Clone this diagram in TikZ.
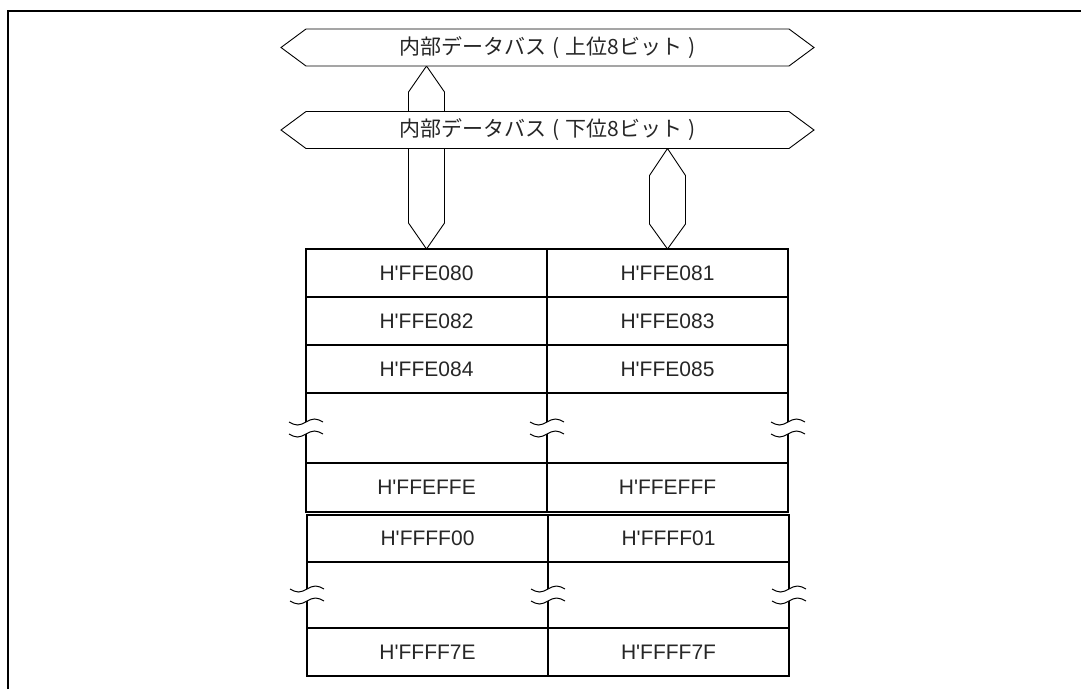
\documentclass[tikz,border=0pt]{standalone}
\usepackage{fontspec}
\setmainfont{Liberation Sans}
\newfontfamily\addrfont{Liberation Sans}[Ligatures=TeXOff]
\newfontfamily\jpfont{Noto Sans CJK JP}
\usetikzlibrary{shapes.arrows,calc,backgrounds}

\newcommand\pgap{\hspace{6pt}}
\tikzset{
  brkmark/.pic={
    \fill[white] (-17,-6) sin (-8.5,-3) cos (0,-6) sin (8.5,-9) cos (17,-6)
      -- (17,6) sin (8.5,3) cos (0,6) sin (-8.5,9) cos (-17,6) -- cycle;
    \draw[line width=1pt] (-17,-6) sin (-8.5,-3) cos (0,-6) sin (8.5,-9) cos (17,-6);
    \draw[line width=1pt] (-17,6) sin (-8.5,9) cos (0,6) sin (8.5,3) cos (17,6);
  }
}

\begin{document}
\begin{tikzpicture}[x=1pt,y=-1pt,
  cell/.style={draw,line width=1.3pt,minimum width=241pt,minimum height=48pt,
    inner sep=0pt,outer sep=0pt,font=\addrfont\fontsize{21}{25}\selectfont,text=black!85},
  brkcell/.style={cell,minimum height=#1},
  bus/.style={double arrow,draw,fill=white,line width=0.9pt,
    double arrow head extend=0pt,double arrow tip angle=73,
    minimum height=533pt,minimum width=37pt,inner sep=0pt,outer sep=0pt,
    font=\jpfont\fontsize{21}{25}\selectfont,text=black!85},
  link/.style={draw,fill=white,line width=0.9pt,line join=miter}]
\useasboundingbox (0,0) rectangle (1081,689);
% frame
\draw[line width=2.6pt] (8,689) -- (8,11) -- (1081,11);
% buses
\node[bus] (busH) at (547.5,47.5) {内部データバス\pgap(\pgap 上位8ビット\pgap)};
\node[bus] (busL) at (547.5,130) {内部データバス\pgap(\pgap 下位8ビット\pgap)};
% memory table, first block
\node[cell] (c080) at (426.5,273) {H'FFE080};
\node[cell] (c081) at (667.5,273) {H'FFE081};
\node[cell] (c082) at (426.5,321) {H'FFE082};
\node[cell] (c083) at (667.5,321) {H'FFE083};
\node[cell] (c084) at (426.5,369) {H'FFE084};
\node[cell] (c085) at (667.5,369) {H'FFE085};
\node[brkcell=70pt] (g1L) at (426.5,428) {};
\node[brkcell=70pt] (g1R) at (667.5,428) {};
\node[cell,minimum height=49pt] (cEFFE) at (426.5,487.5) {H'FFEFFE};
\node[cell,minimum height=49pt] (cEFFF) at (667.5,487.5) {H'FFEFFF};
% second block
\node[cell,minimum height=47pt] (cFF00) at (427.5,538.5) {H'FFFF00};
\node[cell,minimum height=47pt] (cFF01) at (668.5,538.5) {H'FFFF01};
\node[brkcell=66pt] (g2L) at (427.5,595) {};
\node[brkcell=66pt] (g2R) at (668.5,595) {};
\node[cell] (cFF7E) at (427.5,652) {H'FFFF7E};
\node[cell] (cFF7F) at (668.5,652) {H'FFFF7F};
% breaks
\foreach \g in {g1,g2} {
  \pic at (\g L.west) {brkmark};
  \pic at (\g L.east) {brkmark};
  \pic at (\g R.east) {brkmark};
}
% bus links
\begin{scope}[on background layer]
\draw[link] (c080.north |- busH.south) -- ++(18,26) -- ($(c080.north)+(18,-26)$)
  -- (c080.north) -- ++(-18,-26) -- ($(c080.north |- busH.south)+(-18,26)$) -- cycle;
\draw[link] (c081.north |- busL.south) -- ++(18,27) -- ($(c081.north)+(18,-25)$)
  -- (c081.north) -- ++(-18,-25) -- ($(c081.north |- busL.south)+(-18,27)$) -- cycle;
\end{scope}
\end{tikzpicture}
\end{document}
